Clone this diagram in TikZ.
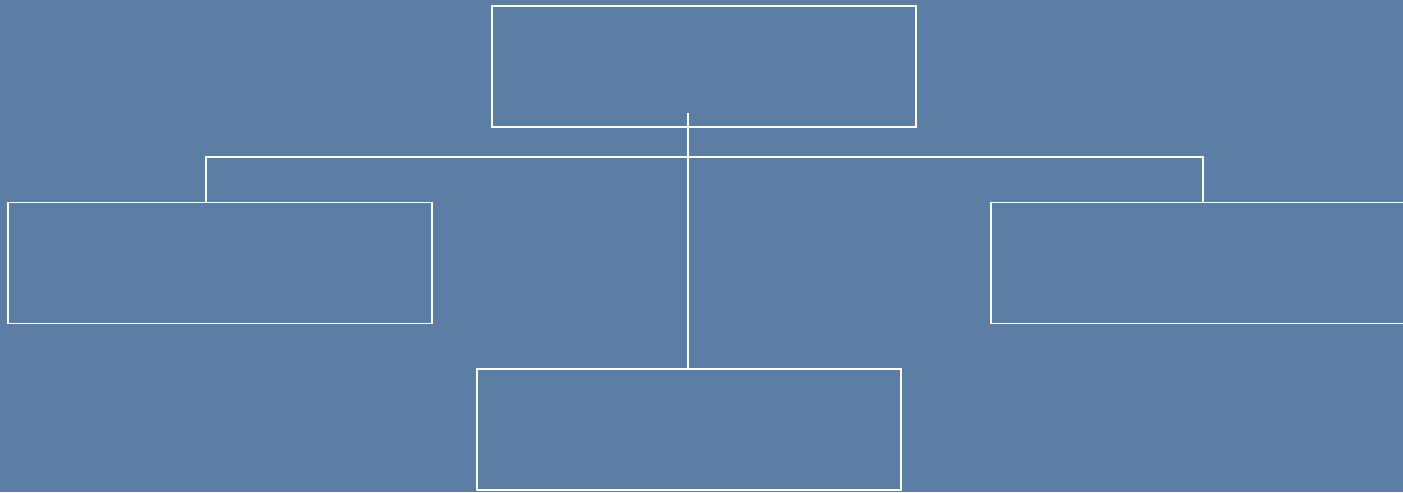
\documentclass[tikz,border=0pt]{standalone}
\usepackage{tikz}
\definecolor{fond}{RGB}{93,126,164}
\tikzset{
  boite/.style={draw=white, line width=1.1pt, minimum width=8.48cm, minimum height=2.42cm, inner sep=0pt},
  lien/.style={draw=white, line width=1.1pt}
}
\begin{document}
\begin{tikzpicture}
  \def\W{28.06}\def\H{9.84}

  % fond
  \useasboundingbox (0,0) rectangle (\W,\H);
  \clip (0,0) rectangle (\W,\H);
  \fill[fond] (0,0) rectangle (\W,\H);

  % boites
  \node[boite] (haut) at (14.08,8.51) {};
  \node[boite] (gauche) at (4.40,4.58) {};
  \node[boite] (droite) at (24.06,4.58) {};
  \node[boite] (bas) at (13.78,1.25) {};

  % liaisons
  \coordinate (racine) at (13.76,7.58);
  \coordinate (bg) at (4.12,6.70);
  \coordinate (bd) at (24.06,6.70);
  \draw[lien] (racine) -- (racine |- bas.north);
  \draw[lien] (gauche.north -| bg) -- (bg) -- (bd) -- (droite.north);
\end{tikzpicture}
\end{document}
